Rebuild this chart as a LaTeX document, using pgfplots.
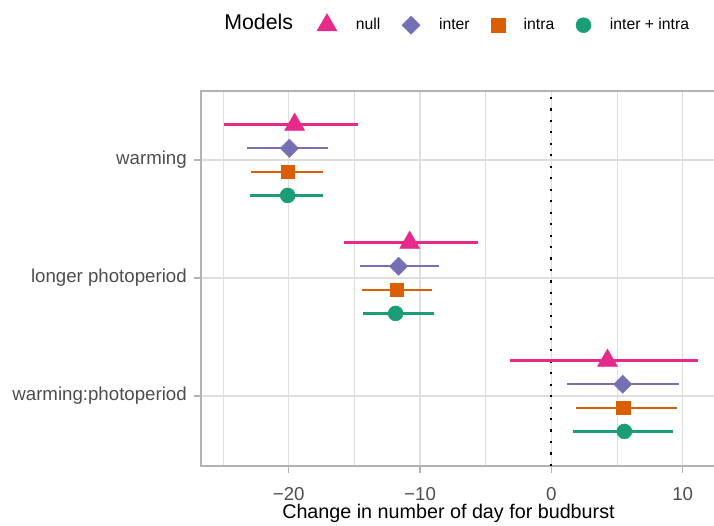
\documentclass[border=0pt]{standalone}
\usepackage{fontspec}
\setmainfont{Liberation Sans}
\usepackage{pgfplots}
\usepackage{pgfplotstable}
\pgfplotsset{compat=1.18}
\definecolor{cnull}{HTML}{E7298A}
\definecolor{cinter}{HTML}{7570B3}
\definecolor{cintra}{HTML}{D95F02}
\definecolor{cboth}{HTML}{1B9E77}
\definecolor{grey87}{HTML}{DEDEDE}
\definecolor{grey70}{HTML}{B3B3B3}
\definecolor{grey30}{HTML}{4D4D4D}

% y: 3 = warming, 2 = longer photoperiod, 1 = warming:photoperiod
\pgfplotstableread{
x y em ep
-19.55 3.3 5.35 4.85
-10.79 2.3 5.00 5.21
4.27 1.3 7.39 6.88
}\tnull
\pgfplotstableread{
x y em ep
-19.95 3.1 3.22 2.95
-11.63 2.1 2.92 3.08
5.43 1.1 4.21 4.27
}\tinter
\pgfplotstableread{
x y em ep
-20.08 2.9 2.77 2.69
-11.75 1.9 2.70 2.66
5.46 0.9 3.58 4.11
}\tintra
\pgfplotstableread{
x y em ep
-20.08 2.7 2.85 2.69
-11.86 1.7 2.51 2.90
5.56 0.7 3.94 3.68
}\tboth

\begin{document}
\begin{tikzpicture}
\path[use as bounding box] (-150.75pt,-44.25pt) rectangle (384.75pt,349.5pt);
\begin{axis}[
  name=ax,
  at={(0,0)}, anchor=south west,
  scale only axis, width=387pt, height=281.25pt,
  xmin=-26.68, xmax=12.61, ymin=0.407, ymax=3.585,
  xtick={-20,-10,0,10}, xticklabels={−20,−10,0,10},
  minor xtick={-25,-15,-5,5},
  ytick={1,2,3}, yticklabels={warming:photoperiod,longer photoperiod,warming},
  grid=both,
  major grid style={color=grey87, line width=0.9pt},
  minor grid style={color=grey87, line width=0.5pt},
  axis line style={color=grey70, line width=1.1pt},
  tick style={color=grey70, line width=0.9pt},
  major tick length=5pt, minor tick length=0pt,
  tick align=outside, xtick pos=bottom, ytick pos=left,
  ticklabel style={font=\fontsize{14}{16}\selectfont, text=grey30},
  xticklabel style={anchor=base, inner sep=0pt, yshift=-20.6pt},
  yticklabel style={anchor=east, inner sep=0pt, xshift=-5.5pt},
  xlabel={Change in number of day for budburst},
  xlabel style={at={(axis description cs:0.4796,-0.1413)}, anchor=base, inner sep=0pt, font=\fontsize{14.8}{17}\selectfont, text=black},
  legend style={draw=none, fill=none, inner sep=0pt, outer sep=0pt,
    at={(axis description cs:0.2249,1.1787)}, anchor=west,
    font=\fontsize{11.8}{14}\selectfont, nodes={inner sep=0pt, text=black},
    /tikz/every odd column/.append style={column sep=14.2pt},
    /tikz/every even column/.append style={column sep=16.3pt}},
  legend columns=-1,
  error bars/error mark=none,
]
\addplot[black, line width=1.6pt, dash pattern=on 1.6pt off 7pt, forget plot] coordinates {(0,0.407) (0,3.585)};

\addplot[cnull, only marks, mark=triangle*, mark size=8.6pt, mark options={draw=none, fill=cnull},
  error bars/.cd, x dir=both, x explicit, error bar style={line width=1.7pt, cnull}]
  table[x=x, y=y, x error plus=ep, x error minus=em] {\tnull};
\addlegendentry{null}
\addplot[cinter, only marks, mark=square*, mark size=4.8pt, mark options={draw=none, fill=cinter, rotate=45},
  error bars/.cd, x dir=both, x explicit, error bar style={line width=1.7pt, cinter}]
  table[x=x, y=y, x error plus=ep, x error minus=em] {\tinter};
\addlegendentry{inter}
\addplot[cintra, only marks, mark=square*, mark size=5pt, mark options={draw=none, fill=cintra},
  error bars/.cd, x dir=both, x explicit, error bar style={line width=1.7pt, cintra}]
  table[x=x, y=y, x error plus=ep, x error minus=em] {\tintra};
\addlegendentry{intra}
\addplot[cboth, only marks, mark=*, mark size=5.6pt, mark options={draw=none, fill=cboth},
  error bars/.cd, x dir=both, x explicit, error bar style={line width=1.7pt, cboth}]
  table[x=x, y=y, x error plus=ep, x error minus=em] {\tboth};
\addlegendentry{inter + intra}
\end{axis}
\node[anchor=base west, inner sep=0pt, font=\fontsize{16}{19}\selectfont, text=black, xshift=17.25pt, yshift=45.75pt] at (ax.north west) {Models};
\end{tikzpicture}
\end{document}
